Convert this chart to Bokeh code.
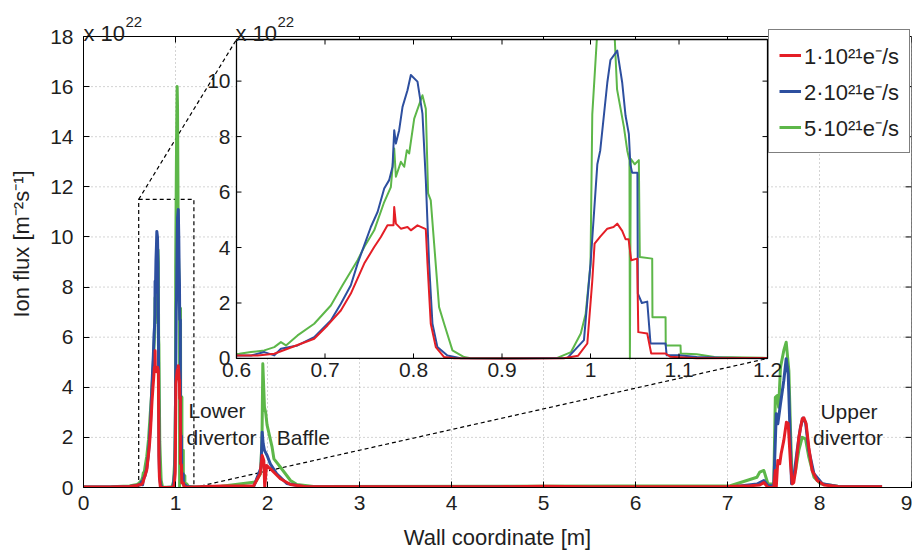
import numpy as np
from bokeh.plotting import figure
from bokeh.models import Range1d, FixedTicker, Legend, LegendItem
from bokeh.core.properties import value
from bokeh.embed import file_html
from bokeh.resources import INLINE

# ---------------- data (ion flux in units of 1e22 m^-2 s^-1) ----------------
RED_X = [0.00, 0.30, 0.50, 0.58, 0.6032, 0.6239, 0.6427, 0.6577, 0.6878, 0.7028, 0.7179, 0.7292,
         0.7443, 0.7556, 0.7631, 0.7706, 0.7774, 0.7782, 0.7801, 0.7857, 0.7932, 0.7970, 0.8045,
         0.8139, 0.8158, 0.8195, 0.8252, 0.8346, 0.8458, 0.9000, 0.9700, 0.9860, 0.9964, 1.0020,
         1.0046, 1.0110, 1.0190, 1.0260, 1.0302, 1.0358, 1.0396, 1.0430, 1.0460, 1.0527, 1.0540,
         1.0641, 1.0686, 1.0848, 1.0900, 1.1200, 1.2000, 1.5000, 1.8500, 1.9200, 1.9420, 1.9600,
         1.9700, 1.9900, 2.0100, 2.0500, 2.1400, 2.2500, 2.4000, 3.0000, 4.5000, 5.0000, 5.5000,
         6.5000, 7.0000, 7.2500, 7.3500, 7.3950, 7.4400, 7.5030, 7.5200, 7.5300, 7.5470, 7.5680,
         7.5830, 7.6120, 7.6400, 7.6600, 7.6850, 7.7030, 7.7200, 7.7400, 7.7750, 7.8120, 7.8300,
         7.8550, 7.8840, 7.9200, 7.9750, 8.0500, 8.2000, 8.6800]
RED_Y = [0.02, 0.02, 0.04, 0.08, 0.11, 0.11, 0.17, 0.35, 0.71, 1.19, 1.73, 2.34,
         3.42, 4.02, 4.38, 4.80, 4.80, 5.46, 4.86, 4.68, 4.74, 4.62, 4.80,
         4.66, 3.42, 1.25, 0.41, 0.05, 0.01, 0.00, 0.01, 0.10, 0.54, 2.80,
         4.14, 4.39, 4.68, 4.74, 4.86, 4.60, 4.30, 4.30, 3.54, 3.60, 0.95,
         0.90, 0.18, 0.18, 0.06, 0.01, 0.02, 0.06, 0.07, 0.55, 1.28, 1.08,
         0.00, 0.88, 0.81, 0.68, 0.35, 0.12, 0.04, 0.03, 0.03, 0.05, 0.03,
         0.03, 0.04, 0.07, 0.10, 0.20, 0.00, 0.00, 0.68, 0.00, 1.08, 0.95,
         1.35, 1.88, 2.60, 2.55, 0.95, 0.15, 0.20, 0.68, 2.00, 2.74, 2.78,
         2.54, 1.60, 0.68, 0.28, 0.10, 0.04, 0.03]

BLUE_X = [0.00, 0.30, 0.50, 0.58, 0.6032, 0.6164, 0.6314, 0.6427, 0.6502, 0.6690, 0.6878, 0.7066,
          0.7179, 0.7292, 0.7368, 0.7443, 0.7518, 0.7594, 0.7669, 0.7725, 0.7763, 0.7782, 0.7801,
          0.7838, 0.7876, 0.7932, 0.7970, 0.8045, 0.8101, 0.8139, 0.8176, 0.8214, 0.8270, 0.8383,
          0.8533, 0.9000, 0.9740, 0.9926, 1.0000, 1.0077, 1.0110, 1.0190, 1.0225, 1.0280, 1.0302,
          1.0358, 1.0396, 1.0433, 1.0450, 1.0470, 1.0530, 1.0535, 1.0580, 1.0641, 1.0678, 1.0848,
          1.0860, 1.1000, 1.1200, 1.1500, 1.2000, 1.5000, 1.8500, 1.9300, 1.9420, 1.9530, 1.9670,
          1.9960, 2.0300, 2.1000, 2.2100, 2.4000, 5.0000, 5.3000, 5.8000, 6.3000, 6.8000, 7.0000,
          7.3200, 7.3950, 7.4400, 7.5030, 7.5300, 7.5470, 7.5760, 7.6120, 7.6380, 7.6600, 7.6780,
          7.6960, 7.7200, 7.7570, 7.7930, 7.8200, 7.8480, 7.8840, 7.9400, 8.0300, 8.2000, 8.6800]
BLUE_Y = [0.02, 0.02, 0.04, 0.08, 0.11, 0.11, 0.23, 0.11, 0.35, 0.47, 0.77, 1.37,
          1.97, 2.64, 3.42, 4.08, 4.74, 5.28, 6.13, 6.43, 6.91, 8.23, 7.75,
          8.23, 9.07, 9.67, 10.22, 9.98, 8.83, 6.43, 3.42, 1.25, 0.41, 0.11,
          0.01, 0.00, 0.02, 0.66, 3.40, 7.00, 7.50, 9.95, 10.76, 11.00, 11.10,
          9.95, 8.75, 8.10, 7.00, 6.70, 6.70, 2.34, 2.00, 2.05, 0.54, 0.54,
          0.12, 0.12, 0.05, 0.03, 0.01, 0.03, 0.04, 0.80, 2.21, 1.75, 1.48,
          1.28, 0.95, 0.55, 0.16, 0.03, 0.02, 0.00, -0.10, -0.15, -0.08, 0.00,
          0.14, 0.28, 0.07, 0.07, 2.94, 2.54, 3.34, 4.27, 5.14, 4.53, 2.40,
          0.15, 0.41, 1.48, 2.40, 2.77, 2.60, 1.48, 0.55, 0.15, 0.04, 0.03]

GREEN_X = [0.00, 0.30, 0.50, 0.58, 0.6032, 0.6164, 0.6314, 0.6427, 0.6502, 0.6559, 0.6690, 0.6878,
           0.7066, 0.7198, 0.7368, 0.7443, 0.7556, 0.7669, 0.7744, 0.7782, 0.7801, 0.7857, 0.7895,
           0.7925, 0.7951, 0.8008, 0.8101, 0.8139, 0.8165, 0.8195, 0.8289, 0.8346, 0.8440, 0.8571,
           0.8646, 0.9000, 0.9625, 0.9780, 0.9890, 0.9945, 1.0000, 1.0020, 1.0077, 1.0120, 1.0180,
           1.0220, 1.0260, 1.0300, 1.0377, 1.0415, 1.0440, 1.0445, 1.0455, 1.0500, 1.0546, 1.0557,
           1.0697, 1.0700, 1.0848, 1.0850, 1.1017, 1.1020, 1.1200, 1.1400, 1.2000, 1.5000, 1.8700,
           1.9240, 1.9400, 1.9490, 1.9670, 1.9800, 1.9950, 2.0500, 2.0700, 2.1410, 2.2500, 2.3200,
           2.5000, 7.0300, 7.2100, 7.3200, 7.3500, 7.3950, 7.4400, 7.5030, 7.5200, 7.5400, 7.5560,
           7.5760, 7.6120, 7.6380, 7.6670, 7.6850, 7.7030, 7.7400, 7.7750, 7.8120, 7.8480, 7.8840,
           7.9400, 8.0100, 8.2000, 8.6800]
GREEN_Y = [0.02, 0.03, 0.06, 0.12, 0.17, 0.23, 0.29, 0.41, 0.59, 0.47, 0.83, 1.25,
           1.91, 2.64, 3.54, 4.02, 4.62, 5.64, 6.18, 7.57, 6.55, 7.09, 6.91,
           7.51, 7.39, 8.65, 9.49, 9.00, 5.95, 5.70, 1.85, 1.25, 0.29, 0.05,
           0.01, 0.01, 0.02, 0.23, 0.90, 1.60, 3.40, 8.80, 11.80, 14.00, 16.00,
           15.20, 12.50, 9.70, 8.35, 7.50, 7.15, 0.00, 7.20, 7.00, 7.15, 3.66,
           3.60, 1.49, 1.49, 0.47, 0.47, 0.18, 0.15, 0.05, 0.02, 0.05, 0.22,
           0.55, 1.88, 4.94, 3.20, 3.00, 2.50, 1.61, 1.14, 0.81, 0.28, 0.12,
           0.04, 0.07, 0.28, 0.41, 0.61, 0.68, 0.14, 0.15, 3.60, 3.67, 3.20,
           4.80, 5.47, 5.80, 4.66, 2.28, 0.15, 0.68, 1.48, 2.00, 1.94, 1.21,
           0.41, 0.15, 0.05, 0.03]

X_TICKS = [0, 1, 2, 3, 4, 5, 6, 7, 8, 9]
Y_TICKS = [0, 2, 4, 6, 8, 10, 12, 14, 16, 18]
INSET_X_TICKS = [0.6, 0.7, 0.8, 0.9, 1.0, 1.1, 1.2]
INSET_X_LABELS = ["0.6", "0.7", "0.8", "0.9", "1", "1.1", "1.2"]
INSET_Y_TICKS = [0, 2, 4, 6, 8, 10]
INSET_Y_LABELS = ["0", "2", "4", "6", "8", "10"]
LEGEND_LABELS = ["1·10²¹e⁻/s", "2·10²¹e⁻/s", "5·10²¹e⁻/s"]
ANNOT_TEXT = ["Lower", "divertor", "Baffle", "Upper", "divertor"]
ANNOT_X = [1.14, 1.12, 2.10, 8.01, 7.93]
ANNOT_Y = [3.07, 2.0, 2.0, 3.03, 2.0]
EXP_BASE, EXP_POWER = "x 10", "22"

# ---------------- layout constants ----------------
W, H = 912, 553
LEFT, RIGHT, BOTTOM = 83, 1, 66
BOX_TOP_PX = 36                      # pixel row of the y = 18 line
X_MAX, Y_MAX = 9, 18
FRAME_H = H - BOTTOM
Y_TOP = Y_MAX * FRAME_H / (FRAME_H - BOX_TOP_PX)   # frame extends above the box for the exponent labels
INSET_XLIM = (0.6, 1.2)
INSET_YLIM = (0.0, 11.5)
INSET_BOX = (1.663, 7.435, 5.15, 17.88)   # inset placement in main data coords (x0, x1, y0, y1)

RED, BLUE, GREEN = "#e41e26", "#2d4f9f", "#5db749"
FONT = "Liberation Sans"
TXT = "#1f1f1f"
GRID = "#a8a8a8"

p = figure(width=W, height=H, x_range=Range1d(0, X_MAX), y_range=Range1d(0, Y_TOP),
           output_backend="svg", toolbar_location=None,
           min_border_left=LEFT, min_border_right=RIGHT, min_border_top=0, min_border_bottom=BOTTOM)
p.background_fill_color = "white"
p.border_fill_color = "white"
p.outline_line_color = None
p.xgrid.visible = False
p.ygrid.visible = False

p.xaxis.ticker = FixedTicker(ticks=X_TICKS)
p.yaxis.ticker = FixedTicker(ticks=Y_TICKS)
p.yaxis.bounds = (0, Y_MAX)
p.xaxis.axis_label = "Wall coordinate [m]"
p.yaxis.axis_label = "Ion flux [m⁻²s⁻¹]"
for ax in (p.xaxis[0], p.yaxis[0]):
    ax.major_tick_in = 6
    ax.major_tick_out = 0
    ax.minor_tick_line_color = None
    ax.axis_line_color = "black"
    ax.major_tick_line_color = "black"
    ax.major_label_text_font = FONT
    ax.major_label_text_font_size = "21px"
    ax.major_label_text_color = TXT
    ax.axis_label_text_font = FONT
    ax.axis_label_text_font_size = "22px"
    ax.axis_label_text_font_style = "normal"
    ax.axis_label_text_color = TXT
p.xaxis.major_label_standoff = 8
p.xaxis.axis_label_standoff = 12
p.yaxis.major_label_standoff = 10
p.yaxis.axis_label_standoff = 13

# dotted grid (limited to the axes box)
p.segment(x0=X_TICKS, y0=[0] * len(X_TICKS), x1=X_TICKS, y1=[Y_MAX] * len(X_TICKS),
          line_color=GRID, line_dash="1 3", line_width=1)
p.segment(x0=[0] * len(Y_TICKS), y0=Y_TICKS, x1=[X_MAX] * len(Y_TICKS), y1=Y_TICKS,
          line_color=GRID, line_dash="1 3", line_width=1)

# axes box
p.quad(left=[0], right=[X_MAX], bottom=[0], top=[Y_MAX], fill_color=None,
       line_color="black", line_width=1)

# mirrored tick marks on top and right of main box
p.ray(x=X_TICKS, y=[Y_MAX] * len(X_TICKS), length=6, length_units="screen",
      angle=-np.pi / 2, line_color="black", line_width=1)
p.ray(x=[X_MAX] * len(Y_TICKS), y=Y_TICKS, length=6, length_units="screen",
      angle=np.pi, line_color="black", line_width=1)

# inset ranges so that the inset box maps onto INSET_BOX
bx0, bx1, by0, by1 = INSET_BOX
sx = (INSET_XLIM[1] - INSET_XLIM[0]) / (bx1 - bx0)
sy = (INSET_YLIM[1] - INSET_YLIM[0]) / (by1 - by0)
p.extra_x_ranges = {"ix": Range1d(INSET_XLIM[0] - bx0 * sx, INSET_XLIM[1] + (X_MAX - bx1) * sx)}
p.extra_y_ranges = {"iy": Range1d(INSET_YLIM[0] - by0 * sy, INSET_YLIM[1] + (Y_TOP - by1) * sy)}

# inset white background
p.quad(left=[INSET_XLIM[0]], right=[INSET_XLIM[1]], bottom=[INSET_YLIM[0]], top=[INSET_YLIM[1]],
       x_range_name="ix", y_range_name="iy", fill_color="white", line_color=None)

# dashed zoom rectangle and connectors
p.quad(left=[INSET_XLIM[0]], right=[INSET_XLIM[1]], bottom=[INSET_YLIM[0]], top=[INSET_YLIM[1]],
       fill_color=None, line_color="black", line_dash="4 3", line_width=1.2)
p.segment(x0=[INSET_XLIM[0], INSET_XLIM[1]], y0=[INSET_YLIM[1], INSET_YLIM[0]],
          x1=[bx0, bx1], y1=[by1, by0], line_color="black", line_dash="4 3", line_width=1.2)

# main curves
r_green = p.line(GREEN_X, GREEN_Y, line_color=GREEN, line_width=3, line_join="round")
r_blue = p.line(BLUE_X, BLUE_Y, line_color=BLUE, line_width=3, line_join="round")
r_red = p.line(RED_X, RED_Y, line_color=RED, line_width=3, line_join="round")


def clip_to_inset(xs, ys):
    xs = np.asarray(xs, float)
    ys = np.asarray(ys, float)
    x0, x1 = INSET_XLIM
    ymax = INSET_YLIM[1]
    xi = np.concatenate([[x0], xs[(xs > x0) & (xs < x1)], [x1]])
    yi = np.interp(xi, xs, ys)
    ox, oy = [], []
    for i in range(len(xi)):
        if i > 0:
            ya, yb = yi[i - 1], yi[i]
            if (ya - ymax) * (yb - ymax) < 0:
                t = (ymax - ya) / (yb - ya)
                ox.append(xi[i - 1] + t * (xi[i] - xi[i - 1]))
                oy.append(ymax)
                if yb > ymax:
                    ox.append(np.nan)
                    oy.append(np.nan)
        if yi[i] <= ymax:
            ox.append(xi[i])
            oy.append(yi[i])
    return ox, oy


for xs, ys, col in ((GREEN_X, GREEN_Y, GREEN), (BLUE_X, BLUE_Y, BLUE), (RED_X, RED_Y, RED)):
    cx, cy = clip_to_inset(xs, ys)
    p.line(cx, cy, x_range_name="ix", y_range_name="iy", line_color=col, line_width=2.0,
           line_join="round")

# inset frame
p.quad(left=[INSET_XLIM[0]], right=[INSET_XLIM[1]], bottom=[INSET_YLIM[0]], top=[INSET_YLIM[1]],
       x_range_name="ix", y_range_name="iy", fill_color=None, line_color="black", line_width=1.3)

# inset ticks (inward, all four sides)
nx, ny = len(INSET_X_TICKS), len(INSET_Y_TICKS)
p.ray(x=INSET_X_TICKS, y=[INSET_YLIM[0]] * nx, length=5, length_units="screen", angle=np.pi / 2,
      x_range_name="ix", y_range_name="iy", line_color="black")
p.ray(x=INSET_X_TICKS, y=[INSET_YLIM[1]] * nx, length=5, length_units="screen", angle=-np.pi / 2,
      x_range_name="ix", y_range_name="iy", line_color="black")
p.ray(x=[INSET_XLIM[0]] * ny, y=INSET_Y_TICKS, length=5, length_units="screen", angle=0,
      x_range_name="ix", y_range_name="iy", line_color="black")
p.ray(x=[INSET_XLIM[1]] * ny, y=INSET_Y_TICKS, length=5, length_units="screen", angle=np.pi,
      x_range_name="ix", y_range_name="iy", line_color="black")

# inset tick labels
p.text(x=INSET_X_TICKS, y=[INSET_YLIM[0]] * nx, text=INSET_X_LABELS, x_range_name="ix",
       y_range_name="iy", text_align="center", text_baseline="top", y_offset=5,
       text_font=value(FONT), text_font_size="21px", text_color=TXT)
p.text(x=[INSET_XLIM[0]] * ny, y=INSET_Y_TICKS, text=INSET_Y_LABELS, x_range_name="ix",
       y_range_name="iy", text_align="right", text_baseline="middle", x_offset=-6,
       text_font=value(FONT), text_font_size="21px", text_color=TXT)

# region annotations
p.text(x=ANNOT_X, y=ANNOT_Y, text=ANNOT_TEXT, text_align="left", text_baseline="middle",
       text_font=value(FONT), text_font_size="21px", text_color=TXT)

# exponent labels (main axes and inset)
p.text(x=[0], y=[Y_MAX], text=[EXP_BASE], text_align="left", text_baseline="alphabetic",
       y_offset=-3, text_font=value(FONT), text_font_size="22px", text_color=TXT)
p.text(x=[0], y=[Y_MAX], text=[EXP_POWER], text_align="left", text_baseline="alphabetic",
       x_offset=42, y_offset=-15, text_font=value(FONT), text_font_size="15px", text_color=TXT)
p.text(x=[INSET_XLIM[0]], y=[INSET_YLIM[1]], text=[EXP_BASE], x_range_name="ix", y_range_name="iy",
       text_align="left", text_baseline="alphabetic", x_offset=-1, y_offset=-6,
       text_font=value(FONT), text_font_size="22px", text_color=TXT)
p.text(x=[INSET_XLIM[0]], y=[INSET_YLIM[1]], text=[EXP_POWER], x_range_name="ix", y_range_name="iy",
       text_align="left", text_baseline="alphabetic", x_offset=41, y_offset=-18,
       text_font=value(FONT), text_font_size="15px", text_color=TXT)

legend = Legend(items=[LegendItem(label=LEGEND_LABELS[0], renderers=[r_red]),
                       LegendItem(label=LEGEND_LABELS[1], renderers=[r_blue]),
                       LegendItem(label=LEGEND_LABELS[2], renderers=[r_green])],
                location=(685, 334), margin=0, padding=10, spacing=6,
                label_height=28, glyph_height=28, glyph_width=22, label_standoff=3,
                label_text_font=FONT, label_text_font_size="22px", label_text_color=TXT,
                border_line_color="black", border_line_width=1, background_fill_alpha=1)
p.add_layout(legend)

open("out.html", "w").write(file_html(p, INLINE))
